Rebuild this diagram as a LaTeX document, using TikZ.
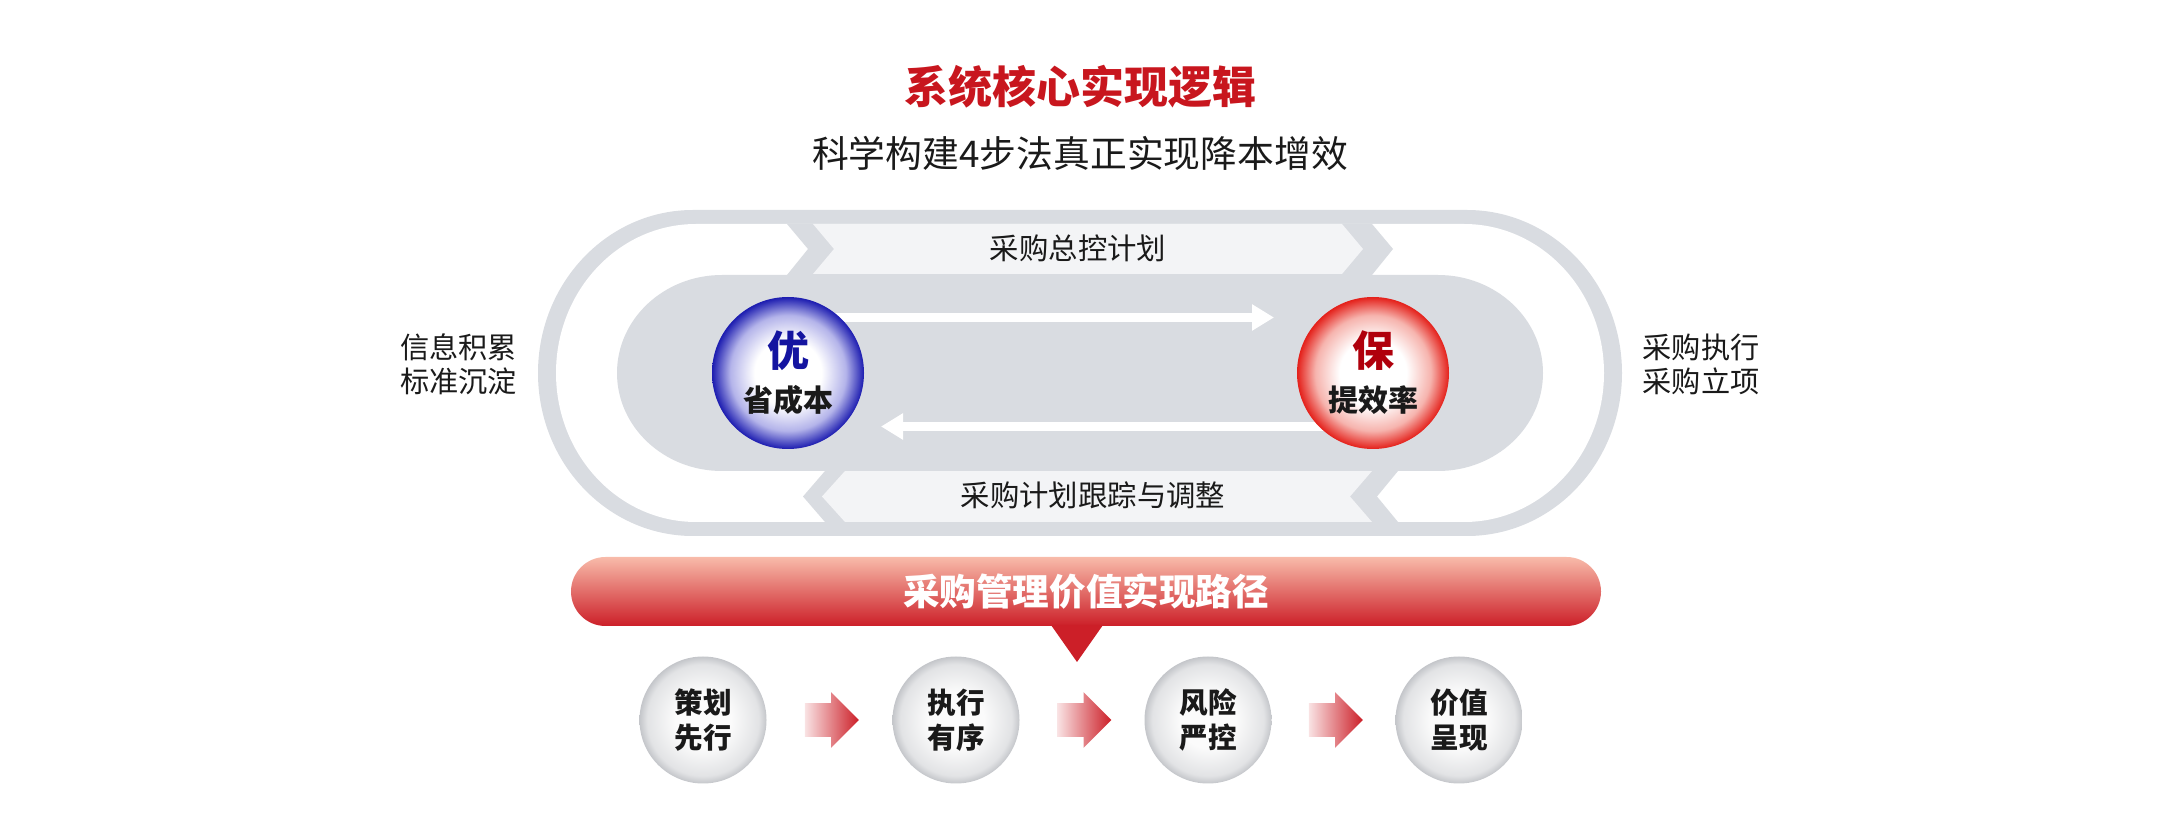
\documentclass[tikz,border=0pt]{standalone}
\usepackage{fontspec}
\setmainfont{Noto Sans CJK SC}
\usetikzlibrary{arrows.meta,shapes.arrows,calc}
\definecolor{guidao}{HTML}{D9DCE1}
\definecolor{qianhui}{HTML}{F3F4F6}
\definecolor{biaohong}{HTML}{C8161E}
\definecolor{zihei}{HTML}{1A1A1A}
\definecolor{youlan}{HTML}{1414A0}
\definecolor{lanbian}{HTML}{1C1CB0}
\definecolor{lanzhong}{HTML}{B4B4EA}
\definecolor{baohong}{HTML}{B0000C}
\definecolor{hongbian}{HTML}{E4201A}
\definecolor{hongzhong}{HTML}{F6B4AE}
\definecolor{tiaoshang}{HTML}{F8BBAA}
\definecolor{tiaoxia}{HTML}{CC1F28}
\definecolor{jianqian}{HTML}{F9E2E3}
\definecolor{jianzhong}{HTML}{E27880}
\definecolor{huixin}{HTML}{FBFBFB}
\definecolor{huizhong}{HTML}{E2E3E5}
\definecolor{huibian}{HTML}{C4C6CA}
\pgfdeclareradialshading{lanqiu}{\pgfpoint{0bp}{0bp}}{color(0bp)=(white); color(11bp)=(white); color(19bp)=(lanzhong); color(25bp)=(lanbian); color(50bp)=(lanbian)}
\pgfdeclareradialshading{hongqiu}{\pgfpoint{0bp}{0bp}}{color(0bp)=(white); color(11bp)=(white); color(19bp)=(hongzhong); color(25bp)=(hongbian); color(50bp)=(hongbian)}
\pgfdeclareradialshading{huiqiu}{\pgfpoint{0bp}{0bp}}{color(0bp)=(huixin); color(11bp)=(huixin); color(22bp)=(huizhong); color(25bp)=(huibian); color(50bp)=(huibian)}
\pgfdeclarelayer{dici}
\pgfsetlayers{dici,main}

\begin{document}
\begin{tikzpicture}[x=0.5pt,y=0.5pt,text=zihei,
 qiu/.style={circle,shade,minimum size=76pt,inner sep=0pt,align=center,font=\bfseries\fontsize{15}{22.5}\selectfont},
 xiaoqiu/.style={circle,shade,shading=huiqiu,minimum size=63.5pt,inner sep=0pt,align=center,font=\bfseries\fontsize{14.3}{17.5}\selectfont},
 cebian/.style={align=center,font=\fontsize{14.6}{17}\selectfont},
 dai/.style={font=\fontsize{14.7}{17}\selectfont},
 baijian/.style={white,line width=4.5pt,-{Triangle[width=12.5pt,length=11pt]}},
 hongjian/.style={single arrow,minimum height=27pt,inner xsep=0pt,inner ysep=8.25pt,single arrow head extend=5.5pt,xshift=-3pt,left color=jianqian,middle color=jianzhong,right color=tiaoxia}]
\useasboundingbox (0,0) rectangle (2160,820);
\begin{pgfonlayer}{dici}
\fill[guidao] (693,284) -- (1467,284) arc[start angle=-90,end angle=90,x radius=155,y radius=163] -- (693,610) arc[start angle=90,end angle=270,x radius=155,y radius=163] -- cycle;
\fill[white] (696,298) -- (1464,298) arc[start angle=-90,end angle=90,x radius=140,y radius=149] -- (696,596) arc[start angle=90,end angle=270,x radius=140,y radius=149] -- cycle;
\fill[guidao] (787,596) -- (808,571) -- (787,545) -- (1372,545) -- (1393,571) -- (1372,596) -- cycle;
\fill[guidao] (825,349) -- (803,323.5) -- (825,298) -- (1398,298) -- (1377,323.5) -- (1398,349) -- cycle;
\fill[qianhui] (813,596) -- (834,571) -- (813,546) -- (1342,546) -- (1363,571) -- (1342,596) -- cycle;
\fill[qianhui] (845,349) -- (822,323.5) -- (845,298) -- (1372,298) -- (1350,323.5) -- (1372,349) -- cycle;
\fill[guidao] (722,349) -- (1438,349) arc[start angle=-90,end angle=90,x radius=105,y radius=98] -- (722,545) arc[start angle=90,end angle=270,x radius=105,y radius=98] -- cycle;
\end{pgfonlayer}
\node[font=\bfseries\fontsize{22}{26}\selectfont,text=biaohong] (biaoti) at (1080,733) {系统核心实现逻辑};
\node[font=\fontsize{18.4}{22}\selectfont] (futi) at (1080,667) {科学构建4步法真正实现降本增效};
\node[cebian] (zuobian) at (458.5,456) {信息积累\\标准沉淀};
\node[cebian] (youbian) at (1701,456) {采购执行\\采购立项};
\node[dai] (zongkong) at (1078,572) {采购总控计划};
\node[dai] (genzong) at (1093,325) {采购计划跟踪与调整};
\node[qiu,shading=lanqiu] (you) at (788,447) {{\fontsize{21}{21}\selectfont\textcolor{youlan}{优}}\\省成本};
\node[qiu,shading=hongqiu] (bao) at (1373,447) {{\fontsize{21}{21}\selectfont\textcolor{baohong}{保}}\\提效率};
\coordinate (yousj) at (1274,502.5);
\coordinate (baosj) at (881,393.5);
\begin{pgfonlayer}{dici}
\draw[baijian] (you.center |- yousj) -- (yousj);
\draw[baijian] (bao.center |- baosj) -- (baosj);
\end{pgfonlayer}
\node[rounded corners=17.25pt,minimum width=515pt,minimum height=34.5pt,inner sep=0pt,top color=tiaoshang,bottom color=tiaoxia,text=white,font=\bfseries\fontsize{18.3}{22}\selectfont] (lujing) at (1086,228.5) {采购管理价值实现路径};
\fill[tiaoxia] (1051,195) -- (1103,195) -- (1077,158) -- cycle;
\foreach \x/\a/\b/\n in {703/策划/先行/1,956/执行/有序/2,1208/风险/严控/3,1459/价值/呈现/4}{
 \node[xiaoqiu] (bu\n) at (\x,100) {\a\\\b};
}
\foreach \i/\j in {1/2,2/3,3/4}{\node[hongjian] (jian\i) at ($(bu\i)!0.5!(bu\j)$) {};}
\end{tikzpicture}
\end{document}
